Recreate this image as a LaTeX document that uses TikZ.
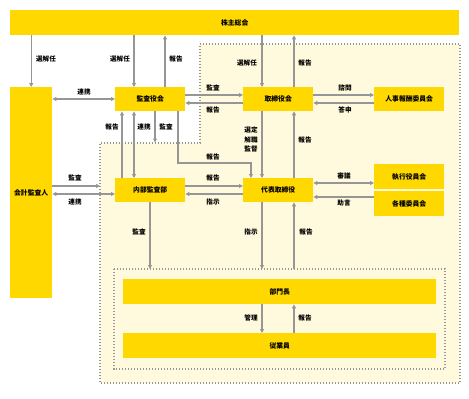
\documentclass[tikz,border=0pt]{standalone}
\usepackage{fontspec}
\newfontfamily\jp{Noto Sans CJK JP}
\usetikzlibrary{arrows.meta}
\definecolor{yel}{RGB}{255,216,0}
\definecolor{cream}{RGB}{255,249,222}
\definecolor{arrgray}{RGB}{150,150,150}
\definecolor{dotgray}{RGB}{150,150,150}
\begin{document}
\begin{tikzpicture}[x=1pt,y=-1pt,
  box/.style={fill=yel, draw=none, inner sep=0pt, anchor=north west, font=\jp\bfseries\fontsize{6.8}{8}\selectfont},
  lbl/.style={inner sep=0pt, font=\jp\bfseries\fontsize{6.6}{8}\selectfont},
  arr/.style={draw=arrgray, line width=1.2pt, -{Triangle[length=4pt,width=4pt]}},
  darr/.style={draw=arrgray, line width=1.2pt, {Triangle[length=4pt,width=4pt]}-{Triangle[length=4pt,width=4pt]}},
  dotline/.style={draw=dotgray, line width=1.3pt, dash pattern=on 1.3pt off 1.7pt}]
\useasboundingbox (0,0) rectangle (469,399);
% regions
\draw[dotline, fill=cream] (200,44) -- (460,44) -- (460,383) -- (100,383) -- (100,143) -- (200,143) -- cycle;
\draw[dotline, fill=cream] (114,269) rectangle (445,369);
% boxes
\node[box, minimum width=449pt, minimum height=25pt] (soukai) at (10,10) {株主総会};
\node[box, minimum width=42pt, minimum height=211pt] (kaikei) at (10,87) {会計監査人};
\node[box, minimum width=70pt, minimum height=24pt] (kansa) at (115,87) {監査役会};
\node[box, minimum width=70pt, minimum height=24pt] (tori) at (243,87) {取締役会};
\node[box, minimum width=70pt, minimum height=24pt] (jinji) at (374,87) {人事報酬委員会};
\node[box, minimum width=70pt, minimum height=24pt] (naibu) at (115,178) {内部監査部};
\node[box, minimum width=70pt, minimum height=24pt] (daihyo) at (243,178) {代表取締役};
\node[box, minimum width=70pt, minimum height=25pt] (shikko) at (374,164) {執行役員会};
\node[box, minimum width=70pt, minimum height=25pt] (kakushu) at (374,191) {各種委員会};
\node[box, minimum width=313pt, minimum height=25pt] (bumon) at (123,279) {部門長};
\node[box, minimum width=313pt, minimum height=25pt] (jugyo) at (123,333) {従業員};
% helper coordinates
\coordinate (x122) at (122,0);
\coordinate (x134) at (134,0);
\coordinate (x150) at (150,0);
\coordinate (x155) at (155,0);
\coordinate (x165) at (165,0);
\coordinate (x178) at (178,0);
\coordinate (x251) at (251,0);
\coordinate (x262) at (262,0);
\coordinate (x294) at (294,0);
\coordinate (regL) at (100,0);
\coordinate (y95) at (0,95);
\coordinate (y99) at (0,99);
\coordinate (y103) at (0,103);
\coordinate (y143) at (0,142.5);
\coordinate (y163) at (0,163);
\coordinate (y183) at (0,183);
\coordinate (y186) at (0,186);
\coordinate (y194) at (0,194);
\coordinate (y197) at (0,197);
\coordinate (y269) at (0,269);
% connectors
\draw[arr] (soukai.south -| kaikei.north) -- (kaikei.north);
\draw[arr] (soukai.south -| x134) -- (kansa.north -| x134);
\draw[arr] (kansa.north -| x165) -- (soukai.south -| x165);
\draw[arr] (soukai.south -| x262) -- (tori.north -| x262);
\draw[arr] (tori.north -| x294) -- (soukai.south -| x294);
\draw[darr] (kaikei.east |- y99) -- (kansa.west |- y99);
\draw[arr] (kansa.east |- y95) -- (tori.west |- y95);
\draw[arr] (tori.west |- y103) -- (kansa.east |- y103);
\draw[arr] (tori.east |- y95) -- (jinji.west |- y95);
\draw[arr] (jinji.west |- y103) -- (tori.east |- y103);
\draw[arr] (naibu.north -| x122) -- (kansa.south -| x122);
\draw[darr] (naibu.north -| x134) -- (kansa.south -| x134);
\draw[arr] (kansa.south -| x155) -- (x155 |- y143);
\draw[arr] (kansa.south -| x178) -- (x178 |- y163) -- (x251 |- y163) -- (daihyo.north -| x251);
\draw[arr] (tori.south -| x262) -- (daihyo.north -| x262);
\draw[arr] (daihyo.north -| x294) -- (tori.south -| x294);
\draw[arr] (kaikei.east |- y186) -- (regL |- y186);
\draw[darr] (kaikei.east |- y194) -- (naibu.west |- y194);
\draw[arr] (naibu.east |- y186) -- (daihyo.west |- y186);
\draw[arr] (daihyo.west |- y194) -- (naibu.east |- y194);
\draw[arr] (naibu.south -| x150) -- (x150 |- y269);
\draw[arr] (daihyo.south -| x262) -- (x262 |- y269);
\draw[arr] (x294 |- y269) -- (daihyo.south -| x294);
\draw[darr] (daihyo.east |- y183) -- (shikko.west |- y183);
\draw[arr] (kakushu.west |- y197) -- (daihyo.east |- y197);
\draw[arr] (bumon.south -| x262) -- (jugyo.north -| x262);
\draw[arr] (jugyo.north -| x294) -- (bumon.south -| x294);
% labels
\node[lbl] (l1) at (46,59) {選解任};
\node[lbl] (l2) at (120,59) {選解任};
\node[lbl] (l3) at (176,59) {報告};
\node[lbl] (l4) at (247,63) {選解任};
\node[lbl] (l5) at (305,63) {報告};
\node[lbl] (l6) at (84,92) {連携};
\node[lbl] (l7) at (213,88) {監査};
\node[lbl] (l8) at (213,110) {報告};
\node[lbl] (l9) at (345,88) {諮問};
\node[lbl] (l10) at (345,110) {答申};
\node[lbl] (l11) at (112,127) {報告};
\node[lbl] (l12) at (144,127) {連携};
\node[lbl] (l13) at (166,127) {監査};
\node[lbl] (l14) at (251,130) {選定};
\node[lbl] (l15) at (251,139.5) {解職};
\node[lbl] (l16) at (251,149) {監督};
\node[lbl] (l17) at (305,140) {報告};
\node[lbl] (l18) at (213,157) {報告};
\node[lbl] (l19) at (75,178) {監査};
\node[lbl] (l20) at (75,202) {連携};
\node[lbl] (l21) at (213,178) {報告};
\node[lbl] (l22) at (213,202) {指示};
\node[lbl] (l23) at (139,232) {監査};
\node[lbl] (l24) at (251,232) {指示};
\node[lbl] (l25) at (306,232) {報告};
\node[lbl] (l26) at (344,176) {審議};
\node[lbl] (l27) at (344,203) {助言};
\node[lbl] (l28) at (251,318) {管理};
\node[lbl] (l29) at (305,318) {報告};
\end{tikzpicture}
\end{document}
